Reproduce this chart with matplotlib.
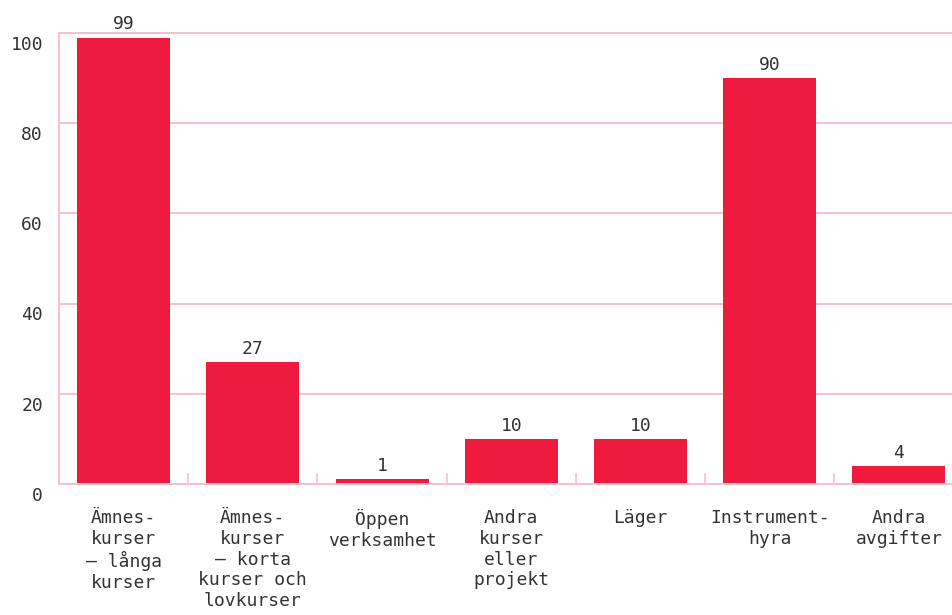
import matplotlib
matplotlib.use("Agg")
import matplotlib.pyplot as plt
import matplotlib.transforms as mtransforms
import numpy as np

categories = ["Ämnes-\nkurser\n– långa\nkurser",
              "Ämnes-\nkurser\n– korta\nkurser och\nlovkurser",
              "Öppen\nverksamhet",
              "Andra\nkurser\neller\nprojekt",
              "Läger",
              "Instrument-\nhyra",
              "Andra\navgifter"]
values = [99, 27, 1, 10, 10, 90, 4]
yticks = [0, 20, 40, 60, 80, 100]

bar_color = "#EE1B3F"
grid_color = "#F7C0CB"
text_color = "#333333"

plt.rcParams['font.family'] = ['DejaVu Sans Mono']
fig = plt.figure(figsize=(9.53, 6.15), dpi=100)
ax = fig.add_axes([59/953, 1-484/615, (963.5-59)/953, (484-33)/615])

x = np.arange(len(categories))
bars = ax.bar(x, values, width=0.72, color=bar_color, zorder=3)
ax.bar_label(bars, labels=[str(v) for v in values], padding=3, fontsize=13, color=text_color)

ax.set_xlim(-0.5, len(categories) - 0.5)
ax.set_ylim(0, 100)
ax.set_yticks(yticks)
ax.set_yticklabels([str(t) for t in yticks], va='top')
ax.set_xticks(x)
ax.set_xticklabels(categories, linespacing=1.2)
ax.set_xticks(np.arange(0.5, len(categories) - 0.5, 1), minor=True)

ax.tick_params(axis='x', which='major', length=0, pad=18, labelsize=13, labelcolor=text_color)
ax.tick_params(axis='x', which='minor', length=8, direction='in', color=grid_color, width=1.2)
ax.tick_params(axis='y', length=0, pad=11.5, labelsize=13, labelcolor=text_color)

offset = mtransforms.ScaledTranslation(0, -2/72, fig.dpi_scale_trans)
for lab in ax.get_yticklabels():
    lab.set_transform(lab.get_transform() + offset)

ax.yaxis.grid(True, color=grid_color, linewidth=1.4, zorder=0)
for gl in ax.get_ygridlines():
    gl.set_clip_on(False)
for s in ['top', 'right']:
    ax.spines[s].set_visible(False)
ax.spines['left'].set_color(grid_color)
ax.spines['left'].set_linewidth(1.4)
ax.spines['bottom'].set_color(grid_color)
ax.spines['bottom'].set_linewidth(1.4)
ax.spines['bottom'].set_zorder(4)

fig.savefig("out.png", dpi=100)
